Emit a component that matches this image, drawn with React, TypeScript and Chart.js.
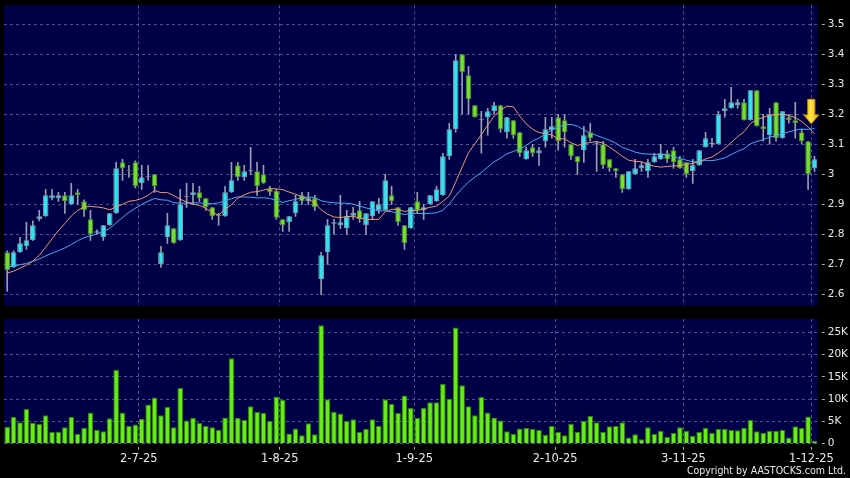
import React, { useEffect, useRef } from 'react';
import { Chart, registerables } from 'chart.js';

Chart.register(...registerables);

// ---- Data (HK$ daily bars, 2 Jun 2025 .. 1 Dec 2025) ----
const opens = [
  2.74, 2.69, 2.74, 2.76, 2.78, 2.85, 2.86, 2.92, 2.92, 2.93,
  2.90, 2.94, 2.91, 2.85, 2.805, 2.79, 2.83, 2.87, 3.04, 3.012,
  3.04, 2.97, 2.99, 3.00, 2.70, 2.79, 2.82, 2.78, 2.925, 2.93,
  2.94, 2.92, 2.89, 2.865, 2.86, 2.94, 3.03, 2.99, 3.01, 3.01,
  3.00, 2.953, 2.945, 2.85, 2.84, 2.87, 2.93, 2.91, 2.92, 2.65,
  2.74, 2.835, 2.83, 2.82, 2.862, 2.88, 2.83, 2.86, 2.88, 2.88,
  2.93, 2.89, 2.83, 2.82, 2.91, 2.88, 2.90, 2.91, 2.93, 3.06,
  3.15, 3.40, 3.33, 3.23, 3.18, 3.19, 3.21, 3.23, 3.14, 3.18,
  3.14, 3.05, 3.09, 3.07, 3.11, 3.148, 3.19, 3.18, 3.10, 3.06,
  3.08, 3.14, 3.10, 3.10, 3.05, 3.02, 3.00, 2.95, 3.00, 3.02,
  3.01, 3.04, 3.05, 3.07, 3.08, 3.05, 3.04, 3.01, 3.03, 3.09,
  3.10, 3.10, 3.21, 3.22, 3.23, 3.24, 3.18, 3.28, 3.16, 3.13,
  3.24, 3.12, 3.19, 3.18, 3.14, 3.11, 3.02,
];
const highs = [
  2.745, 2.745, 2.79, 2.84, 2.845, 2.88, 2.95, 2.95, 2.94, 2.94,
  2.97, 2.95, 2.915, 2.88, 2.815, 2.83, 2.87, 3.04, 3.05, 3.03,
  3.045, 3.03, 3.03, 3.00, 2.76, 2.87, 2.82, 2.95, 2.97, 2.97,
  2.96, 2.92, 2.89, 2.87, 2.96, 3.04, 3.04, 3.03, 3.09, 3.04,
  3.03, 2.96, 2.95, 2.85, 2.86, 2.93, 2.94, 2.94, 2.93, 2.74,
  2.85, 2.85, 2.93, 2.88, 2.89, 2.91, 2.87, 2.91, 2.92, 3.00,
  2.96, 2.89, 2.83, 2.89, 2.94, 2.90, 2.93, 2.96, 3.07, 3.17,
  3.40, 3.40, 3.36, 3.23, 3.21, 3.22, 3.24, 3.23, 3.19, 3.18,
  3.14, 3.09, 3.10, 3.09, 3.19, 3.19, 3.20, 3.20, 3.10, 3.06,
  3.16, 3.17, 3.11, 3.11, 3.05, 3.02, 3.00, 3.01, 3.05, 3.04,
  3.05, 3.07, 3.10, 3.08, 3.09, 3.06, 3.04, 3.05, 3.08, 3.14,
  3.12, 3.21, 3.25, 3.29, 3.25, 3.25, 3.28, 3.28, 3.20, 3.22,
  3.24, 3.21, 3.20, 3.24, 3.15, 3.11, 3.06,
];
const lows = [
  2.61, 2.69, 2.74, 2.75, 2.78, 2.845, 2.86, 2.915, 2.91, 2.87,
  2.90, 2.90, 2.86, 2.78, 2.80, 2.78, 2.83, 2.87, 2.98, 2.99,
  2.955, 2.95, 2.98, 2.94, 2.69, 2.77, 2.77, 2.78, 2.89, 2.90,
  2.91, 2.88, 2.85, 2.83, 2.86, 2.94, 2.98, 2.98, 3.00, 2.93,
  2.97, 2.93, 2.85, 2.81, 2.81, 2.86, 2.90, 2.90, 2.88, 2.60,
  2.70, 2.80, 2.82, 2.80, 2.85, 2.84, 2.80, 2.85, 2.87, 2.88,
  2.90, 2.83, 2.75, 2.82, 2.87, 2.85, 2.90, 2.91, 2.93, 3.05,
  3.14, 3.20, 3.20, 3.19, 3.07, 3.13, 3.20, 3.14, 3.12, 3.12,
  3.06, 3.05, 3.06, 3.03, 3.09, 3.12, 3.08, 3.09, 3.05, 3.00,
  3.04, 3.11, 3.01, 3.02, 3.01, 2.99, 2.94, 2.95, 3.00, 3.01,
  2.99, 3.04, 3.05, 3.04, 3.02, 3.02, 2.99, 2.97, 3.03, 3.09,
  3.09, 3.10, 3.19, 3.22, 3.22, 3.18, 3.18, 3.16, 3.11, 3.10,
  3.11, 3.12, 3.17, 3.12, 3.10, 2.95, 3.01,
];
const closes = [
  2.68, 2.74, 2.77, 2.78, 2.83, 2.86, 2.93, 2.93, 2.93, 2.91,
  2.93, 2.93, 2.88, 2.80, 2.81, 2.83, 2.87, 3.02, 3.02, 3.01,
  2.96, 2.99, 2.99, 2.96, 2.74, 2.83, 2.77, 2.90, 2.925, 2.94,
  2.92, 2.89, 2.86, 2.86, 2.94, 2.98, 2.99, 3.01, 3.012, 2.96,
  2.97, 2.94, 2.855, 2.83, 2.86, 2.91, 2.91, 2.92, 2.89, 2.73,
  2.83, 2.84, 2.84, 2.86, 2.871, 2.85, 2.87, 2.91, 2.90, 2.98,
  2.91, 2.84, 2.77, 2.89, 2.88, 2.89, 2.93, 2.95, 3.06, 3.15,
  3.38, 3.34, 3.25, 3.19, 3.18, 3.21, 3.23, 3.15, 3.19, 3.13,
  3.07, 3.08, 3.07, 3.08, 3.15, 3.16, 3.11, 3.14, 3.06, 3.04,
  3.13, 3.12, 3.10, 3.03, 3.02, 3.01, 2.95, 3.01, 3.02, 3.03,
  3.04, 3.06, 3.07, 3.05, 3.04, 3.02, 3.00, 3.03, 3.08, 3.12,
  3.105, 3.20, 3.22, 3.24, 3.24, 3.18, 3.28, 3.16, 3.15, 3.20,
  3.12, 3.21, 3.18, 3.17, 3.11, 3.00, 3.05,
];
const priorCloses = [
  2.69, 2.68, 2.69, 2.70, 2.70, 2.72, 2.75, 2.76, 2.73, 2.70,
  2.68, 2.67, 2.68, 2.69, 2.67, 2.66, 2.65, 2.66, 2.67,
];
// volume, thousands of shares
const volumesK = [
  3.8, 6.0, 4.8, 7.8, 4.7, 4.4, 6.4, 2.6, 2.7, 3.7,
  6.0, 2.2, 3.6, 7.0, 3.1, 2.8, 5.7, 16.6, 7.0, 4.0,
  4.3, 5.6, 8.8, 10.4, 6.4, 8.3, 3.7, 12.5, 5.2, 5.8,
  4.7, 4.0, 3.7, 3.1, 5.9, 19.2, 5.8, 5.3, 8.4, 7.1,
  6.9, 5.1, 10.6, 9.8, 2.3, 3.4, 1.9, 4.6, 2.1, 26.6,
  10.0, 7.2, 6.8, 5.1, 5.5, 2.6, 3.3, 5.5, 4.0, 10.0,
  8.9, 6.9, 10.8, 8.0, 5.8, 8.1, 9.3, 9.3, 13.4, 10.1,
  26.1, 13.1, 8.4, 6.4, 10.5, 7.0, 5.9, 5.2, 2.8, 2.2,
  3.4, 3.5, 3.3, 3.1, 2.0, 4.0, 2.7, 1.9, 4.5, 2.7,
  5.1, 6.2, 4.8, 2.7, 3.9, 4.0, 4.8, 1.4, 2.1, 1.0,
  3.7, 2.2, 2.9, 1.5, 2.4, 3.7, 2.9, 1.8, 2.6, 3.5,
  2.4, 3.3, 3.3, 3.1, 3.0, 3.6, 5.3, 2.8, 2.4, 2.9,
  2.9, 3.1, 1.4, 3.9, 3.5, 6.1, 0.6,
];
const tickIndex = [21, 43, 64, 86, 106, 126];
const tickLabels = ['2-7-25', '1-8-25', '1-9-25', '2-10-25', '3-11-25', '1-12-25'];
const priceTicks = [2.6, 2.7, 2.8, 2.9, 3.0, 3.1, 3.2, 3.3, 3.4, 3.5];
const volumeTicksK = [0, 5, 10, 15, 20, 25];
const arrowMark = { index: 125.5, top: 3.25, tip: 3.168 };

// ---- Style ----
const UP_FILL = '#2fe3ef';
const UP_EDGE = '#8a9bb0';
const DOWN_FILL = '#74e02a';
const DOWN_EDGE = '#4e8a2e';
const WICK = '#9a9cb0';
const VOL_FILL = '#66ee11';
const VOL_EDGE = '#2f7f10';
const NAVY = '#000046';
const GRID = '#50508a';
const TEXT = '#e8e8e8';
const FONT = "'DejaVu Sans', 'Verdana', sans-serif";

const labels = closes.map((_, i) => i);
const tickAt = new Map<number, string>(tickIndex.map((v, k) => [v, tickLabels[k]]));

function sma(n: number): number[] {
  const all = [...priorCloses, ...closes];
  const off = priorCloses.length;
  return closes.map((_, i) => {
    const end = i + off;
    let s = 0;
    let k = 0;
    for (let j = Math.max(0, end - n + 1); j <= end; j++) {
      s += all[j];
      k++;
    }
    return s / k;
  });
}

const plotBg = {
  id: 'plotBg',
  beforeDraw(chart: any) {
    const { ctx, chartArea: a } = chart;
    ctx.save();
    ctx.fillStyle = NAVY;
    ctx.fillRect(a.left, a.top, a.right - a.left, a.bottom - a.top);
    ctx.restore();
  },
};

const arrowPlugin = {
  id: 'arrowMark',
  afterDatasetsDraw(chart: any) {
    const { ctx } = chart;
    const xs = chart.scales.x;
    const ys = chart.scales.y;
    const i0 = Math.floor(arrowMark.index);
    const p0 = xs.getPixelForValue(i0);
    const p1 = xs.getPixelForValue(i0 + 1);
    const x = p0 + (arrowMark.index - i0) * (p1 - p0);
    const yTop = ys.getPixelForValue(arrowMark.top);
    const yTip = ys.getPixelForValue(arrowMark.tip);
    const headH = 9;
    const sh = 3.6;
    const hh = 7.5;
    ctx.save();
    const g = ctx.createLinearGradient(x - hh, 0, x + hh, 0);
    g.addColorStop(0, '#ffb000');
    g.addColorStop(0.45, '#ffe84a');
    g.addColorStop(1, '#f2a000');
    ctx.beginPath();
    ctx.moveTo(x - sh, yTop);
    ctx.lineTo(x + sh, yTop);
    ctx.lineTo(x + sh, yTip - headH);
    ctx.lineTo(x + hh, yTip - headH);
    ctx.lineTo(x, yTip);
    ctx.lineTo(x - hh, yTip - headH);
    ctx.lineTo(x - sh, yTip - headH);
    ctx.closePath();
    ctx.fillStyle = g;
    ctx.fill();
    ctx.lineWidth = 1;
    ctx.strokeStyle = '#c88400';
    ctx.stroke();
    ctx.restore();
  },
};

const xGridColor = (c: any) => (tickAt.has(c.index) ? GRID : 'rgba(0,0,0,0)');
const xTickColor = (c: any) => (tickAt.has(c.index) ? '#b0b0b0' : 'rgba(0,0,0,0)');

const noPadY = (w: number) => (s: any) => {
  s.width = w;
  s.paddingTop = 0;
  s.paddingBottom = 0;
};

export default function App() {
  const mainRef = useRef<HTMLCanvasElement | null>(null);
  const volRef = useRef<HTMLCanvasElement | null>(null);

  useEffect(() => {
    document.body.style.margin = '0';
    document.body.style.background = '#000';
    const up = closes.map((c, i) => c >= opens[i]);
    const ma10 = sma(10);
    const ma20 = sma(20);

    const main = new Chart(mainRef.current as HTMLCanvasElement, {
      type: 'bar',
      data: {
        labels,
        datasets: [
          {
            type: 'line',
            label: 'MA10',
            data: ma10,
            borderColor: '#ec9a6c',
            borderWidth: 1,
            pointRadius: 0,
            tension: 0,
            order: 0,
          } as any,
          {
            type: 'line',
            label: 'MA20',
            data: ma20,
            borderColor: '#45abf5',
            borderWidth: 1,
            pointRadius: 0,
            tension: 0,
            order: 0,
          } as any,
          {
            type: 'bar',
            label: 'body',
            data: opens.map((o, i) => [o, closes[i]]),
            backgroundColor: up.map((u) => (u ? UP_FILL : DOWN_FILL)),
            borderColor: up.map((u) => (u ? UP_EDGE : DOWN_EDGE)),
            borderWidth: 1,
            borderSkipped: false,
            barPercentage: 0.88,
            categoryPercentage: 1,
            grouped: false,
            minBarLength: 1,
            order: 1,
          } as any,
          {
            type: 'bar',
            label: 'wick',
            data: lows.map((l, i) => [l, highs[i]]),
            backgroundColor: WICK,
            borderWidth: 0,
            barThickness: 1,
            grouped: false,
            order: 2,
          } as any,
        ],
      },
      options: {
        animation: false,
        responsive: false,
        events: [],
        layout: { padding: { left: 4, top: 5.3, right: 0, bottom: 4.3 } },
        plugins: { legend: { display: false }, tooltip: { enabled: false } },
        scales: {
          x: {
            type: 'category',
            offset: true,
            grid: { offset: true, color: xGridColor, drawTicks: false, lineWidth: 1 },
            border: { display: false, dash: [3, 3] },
            ticks: { display: false },
            afterFit: (s: any) => {
              s.height = 0;
              s.paddingLeft = 0;
              s.paddingRight = 0;
            },
          } as any,
          y: {
            position: 'right',
            min: 2.562,
            max: 3.5633,
            afterBuildTicks: (s: any) => {
              s.ticks = priceTicks.map((v) => ({ value: v }));
            },
            grid: {
              color: GRID,
              drawTicks: true,
              tickLength: 7,
              tickColor: '#b0b0b0',
              tickBorderDash: [0, 4, 3, 20],
            },
            border: { display: false, dash: [3, 3] },
            ticks: {
              color: TEXT,
              padding: 3,
              font: { family: FONT, size: 10.5 },
              callback: (v: any) => String(Number(Number(v).toFixed(1))),
            },
            afterFit: noPadY(32.3),
          } as any,
        },
      },
      plugins: [plotBg, arrowPlugin],
    });

    const vol = new Chart(volRef.current as HTMLCanvasElement, {
      type: 'bar',
      data: {
        labels,
        datasets: [
          {
            label: 'Volume',
            data: volumesK,
            backgroundColor: VOL_FILL,
            borderColor: VOL_EDGE,
            borderWidth: 1,
            barPercentage: 0.88,
            categoryPercentage: 1,
          },
        ],
      },
      options: {
        animation: false,
        responsive: false,
        events: [],
        layout: { padding: { left: 4, top: 9, right: 0, bottom: 0 } },
        plugins: { legend: { display: false }, tooltip: { enabled: false } },
        scales: {
          x: {
            type: 'category',
            offset: true,
            grid: {
              offset: true,
              color: xGridColor,
              tickColor: xTickColor,
              drawTicks: true,
              tickLength: 6,
              tickBorderDash: [0, 3, 3, 20],
            },
            border: { display: false, dash: [3, 3] },
            ticks: {
              autoSkip: false,
              maxRotation: 0,
              minRotation: 0,
              color: TEXT,
              padding: 2,
              labelOffset: -3,
              font: { family: FONT, size: 11.5 },
              callback: (_v: any, i: number) => tickAt.get(i) ?? '',
            },
            afterFit: (s: any) => {
              s.height = 34.3;
              s.paddingLeft = 0;
              s.paddingRight = 0;
            },
          } as any,
          y: {
            position: 'right',
            min: 0,
            max: 28,
            afterBuildTicks: (s: any) => {
              s.ticks = volumeTicksK.map((v) => ({ value: v }));
            },
            grid: {
              color: GRID,
              drawTicks: true,
              tickLength: 7,
              tickColor: '#b0b0b0',
              tickBorderDash: [0, 4, 3, 20],
            },
            border: { display: false, dash: [3, 3] },
            ticks: {
              color: TEXT,
              padding: 3,
              font: { family: FONT, size: 10.5 },
              callback: (v: any) => (Number(v) === 0 ? '0' : `${v}K`),
            },
            afterFit: noPadY(32.3),
          } as any,
        },
      },
      plugins: [plotBg],
    });

    return () => {
      main.destroy();
      vol.destroy();
    };
  }, []);

  return (
    <div
      style={{
        position: 'fixed',
        left: 0,
        top: 0,
        width: 850,
        height: 478,
        background: '#000',
        overflow: 'hidden',
      }}
    >
      <canvas
        ref={mainRef}
        width={850}
        height={310}
        style={{ position: 'absolute', left: 0, top: 0, width: 850, height: 310 }}
      />
      <canvas
        ref={volRef}
        width={850}
        height={168}
        style={{ position: 'absolute', left: 0, top: 310, width: 850, height: 168 }}
      />
      <div
        style={{
          position: 'absolute',
          right: 4,
          top: 464,
          fontFamily: "'DejaVu Sans Condensed', 'DejaVu Sans', sans-serif",
          fontStretch: 'condensed',
          fontSize: 10.5,
          lineHeight: '12px',
          color: TEXT,
          whiteSpace: 'nowrap',
        }}
      >
        Copyright by AASTOCKS.com Ltd.
      </div>
    </div>
  );
}
